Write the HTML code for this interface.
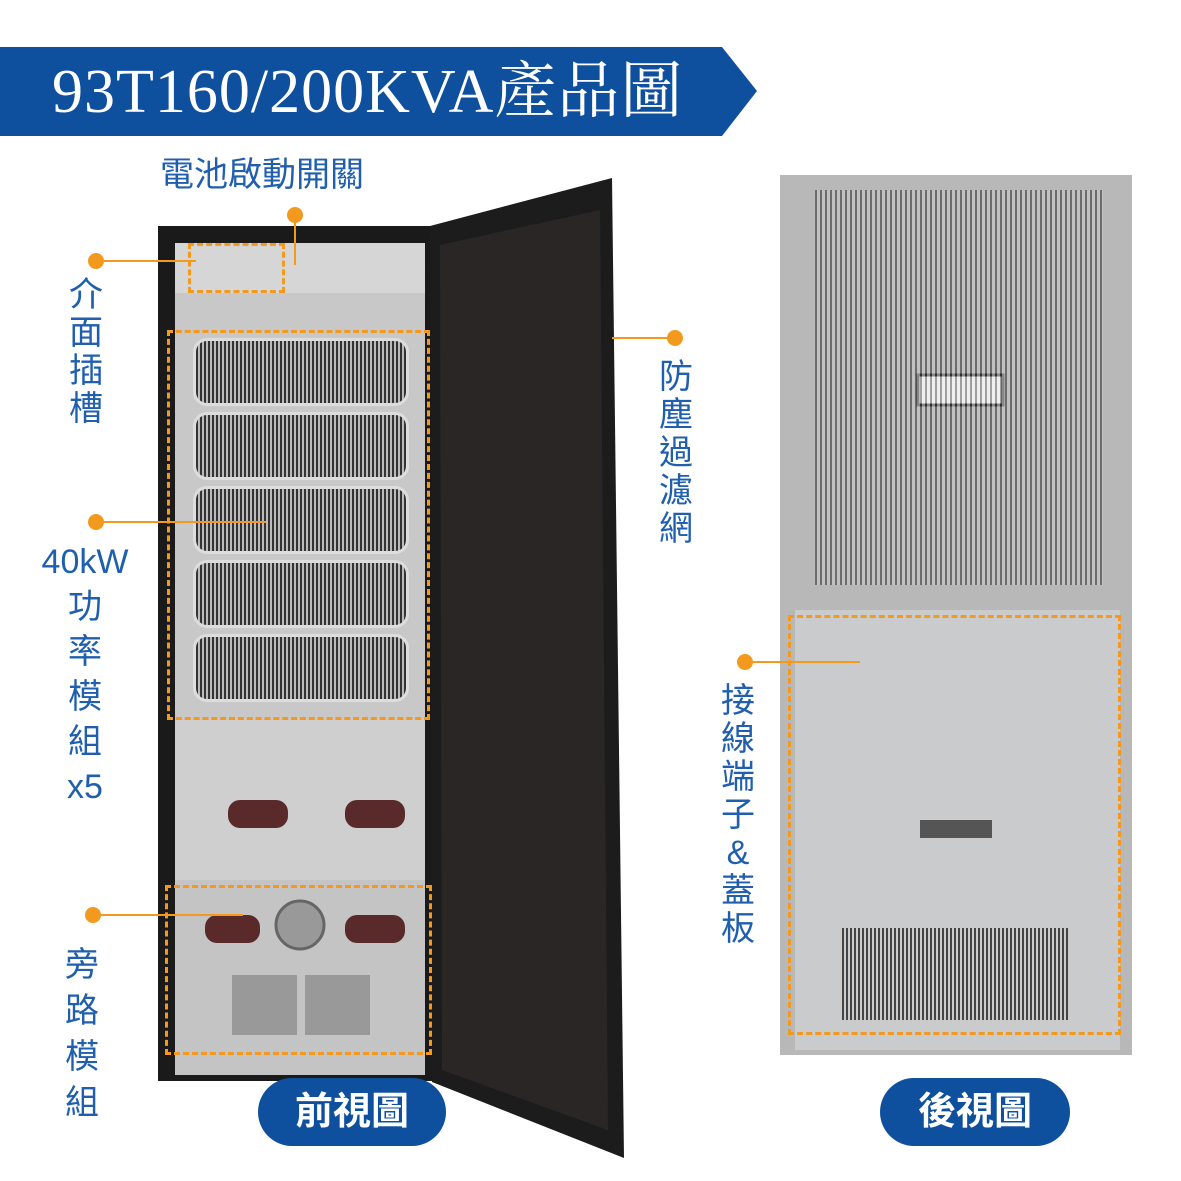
<!DOCTYPE html>
<html><head><meta charset="utf-8"><style>
body{margin:0;width:1181px;height:1181px;background:#fff;position:relative;overflow:hidden;font-family:"Liberation Sans","Noto Sans CJK TC",sans-serif}
.a{position:absolute}
.lbl{position:absolute;color:#1f5fae;font-size:34px;line-height:40px;text-align:center}
.dot{position:absolute;width:16px;height:16px;border-radius:50%;background:#f39a1e}
.ln{position:absolute;height:2px;background:#f39a1e}
.box{position:absolute;border:3px dashed #f39a1e;box-sizing:border-box}
.pill{position:absolute;background:#0e4f9e;color:#fff;border-radius:36px;font-size:38px;text-align:center;line-height:68px;font-weight:bold}
.grille{position:absolute;border-radius:14px;background:repeating-linear-gradient(90deg,#333 0 2px,#bbb 2px 4px);border:3px solid #ddd}
</style></head><body>
<svg class="a" style="left:0;top:0" width="1181" height="1181">
<polygon points="0,47 722,47 757,91 722,136 0,136" fill="#0e4f9e"/>
<rect x="158" y="226" width="275" height="855" fill="#1a1a1a"/>
<rect x="175" y="243" width="250" height="832" fill="#c8c8c8"/>
<rect x="175" y="243" width="250" height="50" fill="#d6d6d6"/>
<rect x="175" y="720" width="250" height="160" fill="#cfcfcf"/>
<rect x="175" y="880" width="250" height="195" fill="#c4c4c4"/>
<polygon points="430,226 612,178 624,1158 432,1082" fill="#1c1c1c"/>
<polygon points="440,245 600,210 608,1130 442,1070" fill="#2a2626"/>
<circle cx="300" cy="925" r="24" fill="#999" stroke="#666" stroke-width="3"/>
<rect x="232" y="975" width="65" height="60" fill="#999"/>
<rect x="305" y="975" width="65" height="60" fill="#999"/>
<rect x="228" y="800" width="60" height="28" rx="12" fill="#5a2a2a"/>
<rect x="345" y="800" width="60" height="28" rx="12" fill="#5a2a2a"/>
<rect x="205" y="915" width="55" height="28" rx="12" fill="#5a2a2a"/>
<rect x="345" y="915" width="60" height="28" rx="12" fill="#5a2a2a"/>
<rect x="780" y="175" width="352" height="880" fill="#b8b8b8"/>
<rect x="815" y="190" width="288" height="395" fill="#9a9a9a"/>
<rect x="795" y="610" width="325" height="440" fill="#c9cbcd"/>
<rect x="842" y="928" width="228" height="92" fill="#777"/>
<rect x="918" y="375" width="85" height="30" fill="#eee" stroke="#333" stroke-width="3"/>
<rect x="920" y="820" width="72" height="18" fill="#555"/>
</svg>
<div class="a" style="left:815px;top:190px;width:288px;height:395px;background:repeating-linear-gradient(90deg,rgba(40,40,40,.4) 0 2px,rgba(240,240,240,.45) 2px 5px)"></div>
<div class="a" style="left:842px;top:928px;width:228px;height:92px;background:repeating-linear-gradient(90deg,#444 0 2px,#ccc 2px 4px)"></div>
<div class="grille" style="left:193px;top:338px;width:210px;height:62px"></div>
<div class="grille" style="left:193px;top:412px;width:210px;height:62px"></div>
<div class="grille" style="left:193px;top:486px;width:210px;height:62px"></div>
<div class="grille" style="left:193px;top:560px;width:210px;height:62px"></div>
<div class="grille" style="left:193px;top:634px;width:210px;height:62px"></div>
<div class="a" style="left:52px;top:52px;color:#fff;font-family:'Liberation Serif','Noto Serif CJK SC',serif;font-size:62px;line-height:80px;letter-spacing:1px">93T160/200KVA產品圖</div>
<div class="box" style="left:188px;top:243px;width:97px;height:50px"></div>
<div class="box" style="left:167px;top:330px;width:263px;height:390px"></div>
<div class="box" style="left:165px;top:885px;width:267px;height:170px"></div>
<div class="box" style="left:788px;top:615px;width:333px;height:420px"></div>
<div class="lbl" style="left:160px;top:155px;text-align:left">電池啟動開關</div>
<div class="dot" style="left:287px;top:207px"></div><div class="a" style="left:294px;top:215px;width:2px;height:50px;background:#f39a1e"></div>
<div class="dot" style="left:88px;top:253px"></div><div class="ln" style="left:96px;top:260px;width:100px"></div>
<div class="lbl" style="left:66px;top:276px;width:40px;line-height:38px">介面插槽</div>
<div class="dot" style="left:88px;top:514px"></div><div class="ln" style="left:96px;top:521px;width:170px"></div>
<div class="lbl" style="left:30px;top:540px;width:110px;line-height:45px">40kW<br>功<br>率<br>模<br>組<br>x5</div>
<div class="dot" style="left:85px;top:907px"></div><div class="ln" style="left:93px;top:914px;width:150px"></div>
<div class="lbl" style="left:62px;top:942px;width:40px;line-height:46px">旁路模組</div>
<div class="dot" style="left:667px;top:330px"></div><div class="ln" style="left:612px;top:337px;width:60px"></div>
<div class="lbl" style="left:656px;top:358px;width:40px;line-height:38px">防塵過濾網</div>
<div class="dot" style="left:737px;top:654px"></div><div class="ln" style="left:745px;top:661px;width:115px"></div>
<div class="lbl" style="left:718px;top:682px;width:40px;line-height:38px">接線端子&amp;蓋板</div>
<div class="pill" style="left:258px;top:1078px;width:188px;height:68px">前視圖</div>
<div class="pill" style="left:880px;top:1078px;width:190px;height:68px">後視圖</div>
</body></html>
